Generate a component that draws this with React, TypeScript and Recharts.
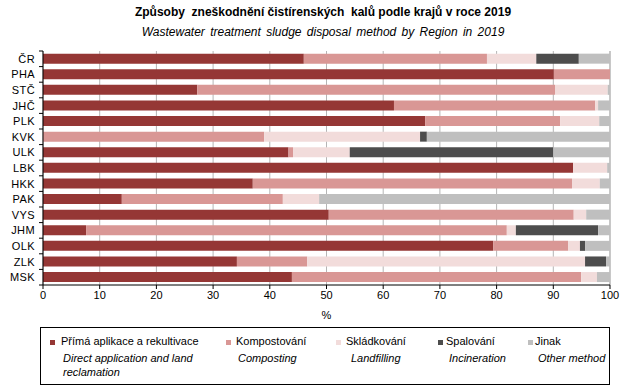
import { Bar, BarChart, CartesianGrid, Legend, XAxis, YAxis } from "recharts";

const regions = ["ČR", "PHA", "STČ", "JHČ", "PLK", "KVK", "ULK", "LBK", "HKK", "PAK", "VYS", "JHM", "OLK", "ZLK", "MSK"];
const primaAplikace = [46.0, 90.1, 27.2, 61.9, 67.4, 0, 43.3, 93.5, 37.0, 13.9, 50.4, 7.6, 79.4, 34.2, 43.9];
const kompostovani = [32.3, 9.9, 63.1, 35.5, 23.8, 39.0, 0.8, 0, 56.3, 28.4, 43.2, 74.2, 13.2, 12.4, 51.0];
const skladkovani = [8.7, 0, 9.3, 0.5, 6.9, 27.5, 10.0, 6.0, 4.9, 6.4, 2.2, 1.6, 2.1, 49.0, 2.8];
const spalovani = [7.5, 0, 0, 0, 0, 1.2, 35.9, 0, 0, 0, 0, 14.5, 0.9, 3.7, 0];
const jinak = [5.5, 0, 0.4, 2.1, 1.9, 32.3, 10.0, 0.5, 1.8, 51.3, 4.2, 2.1, 4.4, 0.7, 2.3];

const seriesNames = ["Přímá aplikace a rekultivace", "Kompostování", "Skládkování", "Spalování", "Jinak"];
const seriesNamesEn = ["Direct application and land reclamation", "Composting", "Landfilling", "Incineration", "Other method"];
const xTicks = [0, 10, 20, 30, 40, 50, 60, 70, 80, 90, 100];

const colors = ["#953735", "#D99795", "#F2DCDB", "#4D4D4D", "#BFBFBF"];
const font = '"Liberation Sans", Arial, sans-serif';

const data = regions.map((r, i) => ({
  region: r,
  s0: primaAplikace[i],
  s1: kompostovani[i],
  s2: skladkovani[i],
  s3: spalovani[i],
  s4: jinak[i],
}));

const BAND = 234 / regions.length;

function RegionTick(props: any) {
  const { x, y, payload, index } = props;
  return (
    <g>
      <text x={x} y={y} dy={4} textAnchor="end" fontSize={11} fill="#000" fontFamily={font} letterSpacing={0.4}>
        {payload.value}
      </text>
      <line x1={x + 4} x2={x + 8} y1={y - BAND / 2} y2={y - BAND / 2} stroke="#000" />
      {index === regions.length - 1 && (
        <line x1={x + 4} x2={x + 8} y1={y + BAND / 2} y2={y + BAND / 2} stroke="#000" />
      )}
    </g>
  );
}

// marker x / text x / italic x, relative to the legend box
const legendPos = [
  { m: 9, t: 20, e: 22, w: 150 },
  { m: 185, t: 195, e: 197, w: 100 },
  { m: 295, t: 305, e: 310, w: 90 },
  { m: 397, t: 405, e: 408, w: 90 },
  { m: 487, t: 494, e: 497, w: 80 },
];

function LegendBox(props: any) {
  const payload = props.payload || [];
  return (
    <div style={{ position: "relative", width: "100%", height: "100%", fontFamily: font, fontSize: 11, color: "#000" }}>
      {seriesNames.map((name, i) => {
        const pos = legendPos[i];
        const item = payload.find((p: any) => p.value === name);
        return (
          <div key={name}>
            <div style={{ position: "absolute", left: pos.m, top: 12, width: 5, height: 5, background: item ? item.color : colors[i] }} />
            <div style={{ position: "absolute", left: pos.t, top: 7, whiteSpace: "nowrap" }}>{name}</div>
            <div style={{ position: "absolute", left: pos.e, top: 23, width: pos.w, fontStyle: "italic", lineHeight: "14px" }}>
              {seriesNamesEn[i]}
            </div>
          </div>
        );
      })}
    </div>
  );
}

export default function App() {
  return (
    <div style={{ position: "absolute", left: 0, top: 0, width: 634, height: 392, background: "#fff", fontFamily: font }}>
      <div style={{ position: "absolute", left: 0, top: 5, width: 646, textAlign: "center", fontSize: 12, fontWeight: "bold", whiteSpace: "pre" }}>
        {"Způsoby  zneškodnění čistírenských  kalů podle krajů v roce 2019"}
      </div>
      <div style={{ position: "absolute", left: 0, top: 25, width: 646, textAlign: "center", fontSize: 12, fontStyle: "italic", wordSpacing: 2 }}>
        Wastewater treatment sludge disposal method by Region in 2019
      </div>
      <BarChart
        width={634}
        height={392}
        data={data}
        layout="vertical"
        margin={{ top: 51, right: 24, bottom: 77, left: 3 }}
        barCategoryGap="17%"
      >
        <CartesianGrid horizontal={false} stroke="#B5B5B5" />
        <XAxis
          type="number"
          domain={[0, 100]}
          ticks={xTicks}
          height={30}
          tickSize={4}
          stroke="#000"
          tick={{ fontSize: 11, fill: "#000", fontFamily: font }}
          label={{ value: "%", position: "insideBottom", offset: -4, fontSize: 11, fill: "#000", fontFamily: font }}
        />
        <XAxis xAxisId="top" orientation="top" type="number" domain={[0, 100]} height={0} tick={false} tickLine={false} stroke="#000" />
        <YAxis
          type="category"
          dataKey="region"
          width={40}
          stroke="#000"
          tickLine={false}
          tick={<RegionTick />}
          interval={0}
        />
        <YAxis yAxisId="right" orientation="right" type="category" dataKey="region" width={0} tick={false} tickLine={false} stroke="#000" />
        {seriesNames.map((name, i) => (
          <Bar key={name} dataKey={"s" + i} name={name} stackId="a" fill={colors[i]} isAnimationActive={false} />
        ))}
        <Legend
          layout="horizontal"
          verticalAlign="middle"
          align="center"
          content={<LegendBox />}
          wrapperStyle={{ left: 40, top: 327, width: 570, height: 58, border: "1px solid #000", boxSizing: "border-box", background: "#fff" }}
        />
      </BarChart>
    </div>
  );
}
